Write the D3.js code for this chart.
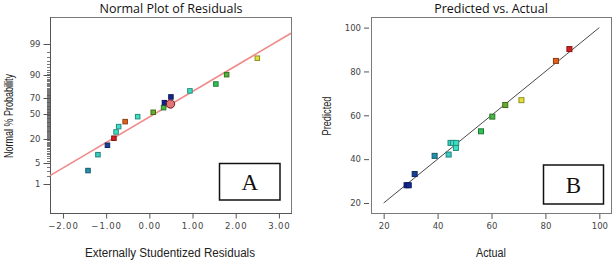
<!DOCTYPE html>
<html lang="en">
<head>
  <meta charset="UTF-8">
  <title>residuals-and-predicted</title>
  <script src="https://cdn.jsdelivr.net/npm/d3@7"></script>
  <style>
    body { margin: 0; background: #fff; }
    svg { display: block; }
    .tick text { font-family: "DejaVu Sans", sans-serif; font-size: 8.5px; fill: #444; }
    .tick line { stroke: #555; }
  </style>
</head>
<body>
<script>
// normal plot of residuals
let residuals = [-1.42, -1.19, -0.97, -0.82, -0.77, -0.71, -0.56, -0.27, 0.09, 0.33, 0.35, 0.49, 0.50, 0.94, 1.54, 1.79, 2.50];
let probabilities = [3.0, 8.8, 14.9, 21.0, 27.5, 33.7, 39.9, 46.4, 52.2, 58.3, 64.6, 63.0, 71.4, 77.8, 84.0, 90.4, 96.8];
let residualRunValues = [38.9, 44.1, 31.5, 88.9, 46.8, 45.7, 83.9, 46.9, 65.1, 60.3, 28.5, 44.8, 29.3, 47.0, 56.1, 62.0, 71.1];
let highlighted = 11;
let fitResiduals = [-2.30, 3.28];
let fitProbabilities = [2.02, 99.63];
let residualTicks = [-2, -1, 0, 1, 2, 3];
let probabilityTicks = [1, 5, 20, 50, 70, 90, 99];

// predicted vs actual
let actual = [28.5, 29.3, 31.5, 38.9, 44.1, 44.8, 45.7, 46.9, 46.8, 56.1, 60.3, 65.1, 71.1, 83.9, 88.9];
let predicted = [28.1, 28.1, 33.2, 41.5, 42.1, 47.4, 47.4, 47.4, 45.1, 52.7, 59.4, 64.7, 66.9, 84.8, 90.2];
let parityLine = [20, 100];
let responseTicks = [20, 40, 60, 80, 100];

let color = d3.scaleLinear()
  .domain([28, 36, 46, 57, 65, 71, 84, 90])
  .range(['#121c8e', '#1a70a0', '#3ee2cc', '#2fc04e', '#64ad2a', '#e2e23a', '#e2601c', '#d2101e']);

// inverse normal cdf (Acklam)
function probit(p) {
  let a = [-39.69683028665376, 220.9460984245205, -275.9285104469687, 138.3577518672690, -30.66479806614716, 2.506628277459239];
  let b = [-54.47609879822406, 161.5858368580409, -155.6989798598866, 66.80131188771972, -13.28068155288572];
  let c = [-0.007784894002430293, -0.3223964580411365, -2.400758277161838, -2.549732539343734, 4.374664141464968, 2.938163982698783];
  let d = [0.007784695709041462, 0.3224671290700398, 2.445134137142996, 3.754408661907416];
  let q, r;
  if (p < 0.02425) {
    q = Math.sqrt(-2 * Math.log(p));
    return (((((c[0] * q + c[1]) * q + c[2]) * q + c[3]) * q + c[4]) * q + c[5]) / ((((d[0] * q + d[1]) * q + d[2]) * q + d[3]) * q + 1);
  }
  if (p > 1 - 0.02425) {
    q = Math.sqrt(-2 * Math.log(1 - p));
    return -(((((c[0] * q + c[1]) * q + c[2]) * q + c[3]) * q + c[4]) * q + c[5]) / ((((d[0] * q + d[1]) * q + d[2]) * q + d[3]) * q + 1);
  }
  q = p - 0.5;
  r = q * q;
  return (((((a[0] * r + a[1]) * r + a[2]) * r + a[3]) * r + a[4]) * r + a[5]) * q / (((((b[0] * r + b[1]) * r + b[2]) * r + b[3]) * r + b[4]) * r + 1);
}

let svg = d3.select('body').append('svg')
  .attr('width', 615)
  .attr('height', 261);

function frame(x0, y0, x1, y1) {
  svg.append('rect')
    .attr('x', x0 + 0.5).attr('y', y0 + 0.5)
    .attr('width', x1 - x0).attr('height', y1 - y0)
    .attr('fill', 'none')
    .attr('stroke', '#7a7a7a');
}

function title(text, x, y) {
  svg.append('text')
    .attr('x', x).attr('y', y)
    .attr('text-anchor', 'middle')
    .style('font-family', '"Open Sans", sans-serif')
    .style('font-size', '12.5px')
    .attr('fill', '#111')
    .text(text);
}

function axisLabel(text, x, y, length, rotate) {
  svg.append('text')
    .attr('transform', 'translate(' + x + ',' + y + ')' + (rotate ? ' rotate(-90)' : ''))
    .attr('text-anchor', 'middle')
    .attr('textLength', length)
    .attr('lengthAdjust', 'spacingAndGlyphs')
    .style('font-family', '"Liberation Sans", Arial, sans-serif')
    .style('font-size', '12px')
    .attr('fill', '#222')
    .text(text);
}

function letterBox(letter, x0, y0, x1, y1) {
  svg.append('rect')
    .attr('x', x0).attr('y', y0)
    .attr('width', x1 - x0).attr('height', y1 - y0)
    .attr('fill', '#fff')
    .attr('stroke', '#111')
    .attr('stroke-width', 1.5);
  svg.append('text')
    .attr('x', (x0 + x1) / 2).attr('y', (y0 + y1) / 2 + 8)
    .attr('text-anchor', 'middle')
    .style('font-family', '"Liberation Serif", "Times New Roman", serif')
    .style('font-size', '23px')
    .attr('fill', '#111')
    .text(letter);
}

function square(g, cx, cy, size, value) {
  let fill = d3.color(color(value));
  g.append('rect')
    .attr('x', cx - size / 2).attr('y', cy - size / 2)
    .attr('width', size).attr('height', size)
    .attr('fill', fill.formatHex())
    .attr('stroke', fill.darker(1.3).formatHex())
    .attr('stroke-width', 1);
}

function renderResidualPlot() {
  let x = d3.scaleLinear().domain([-2.30, 3.28]).range([50, 291]);
  let y = d3.scaleLinear().domain([-3.29, 3.22]).range([213, 17]);
  let py = function (p) { return y(probit(p / 100)); };

  frame(50, 17, 291, 213);

  let xAxis = d3.axisBottom(x)
    .tickValues(residualTicks)
    .tickSize(5)
    .tickPadding(4)
    .tickFormat(d3.format('.2f'));
  svg.append('g')
    .attr('transform', 'translate(0,213.5)')
    .call(xAxis)
    .call(function (g) { g.select('.domain').remove(); })
    .selectAll('text')
    .style('letter-spacing', '0.9px');

  let minor = d3.range(1, 100);
  svg.append('g').selectAll('line')
    .data(minor)
    .join('line')
    .attr('x1', 47).attr('x2', 50)
    .attr('y1', function (d) { return Math.round(py(d)) + 0.5; })
    .attr('y2', function (d) { return Math.round(py(d)) + 0.5; })
    .attr('stroke', '#555')
    .attr('stroke-width', 0.8);

  let yAxis = d3.axisLeft(d3.scaleLinear().domain([0, 1]).range([0, 1]))
    .tickValues(probabilityTicks)
    .tickSize(7)
    .tickPadding(3)
    .tickFormat(d3.format('d'));
  let yg = svg.append('g')
    .attr('transform', 'translate(50.5,0)')
    .call(yAxis);
  yg.select('.domain').remove();
  yg.selectAll('.tick')
    .attr('transform', function (d) { return 'translate(0,' + (Math.round(py(d)) + 0.5) + ')'; });

  svg.append('line')
    .attr('x1', 50.5).attr('x2', 50.5).attr('y1', 17).attr('y2', 214)
    .attr('stroke', '#555');
  svg.append('line')
    .attr('x1', 50).attr('x2', 292).attr('y1', 213.5).attr('y2', 213.5)
    .attr('stroke', '#555');

  svg.append('line')
    .attr('x1', x(fitResiduals[0])).attr('y1', py(fitProbabilities[0]))
    .attr('x2', x(fitResiduals[1])).attr('y2', py(fitProbabilities[1]))
    .attr('stroke', '#f08a8a')
    .attr('stroke-width', 1.6);

  let pts = svg.append('g');
  residuals.forEach(function (r, i) {
    if (i === highlighted) return;
    square(pts, x(r), py(probabilities[i]), 4.5, residualRunValues[i]);
  });
  pts.append('circle')
    .attr('cx', x(residuals[highlighted]))
    .attr('cy', py(probabilities[highlighted]))
    .attr('r', 4.2)
    .attr('fill', '#e07476')
    .attr('stroke', '#6a1a22')
    .attr('stroke-width', 1);

  title('Normal Plot of Residuals', 171, 13);
  axisLabel('Normal % Probability', 13, 116, 84, true);
  axisLabel('Externally Studentized Residuals', 170, 257, 170, false);
  letterBox('A', 219.5, 163.5, 280, 200);
}

function renderParityPlot() {
  let x = d3.scaleLinear().domain([15.3, 104.7]).range([371, 612]);
  let y = d3.scaleLinear().domain([15.3, 104.7]).range([213.3, 17.3]);

  frame(371, 17, 611, 213);

  svg.append('g')
    .attr('transform', 'translate(0,214)')
    .call(d3.axisBottom(x).tickValues(responseTicks).tickSize(5).tickPadding(4))
    .call(function (g) { g.select('.domain').remove(); });

  svg.append('g')
    .attr('transform', 'translate(369,0)')
    .call(d3.axisLeft(y).tickValues(responseTicks).tickSize(5).tickPadding(3))
    .call(function (g) { g.select('.domain').remove(); });

  svg.append('line')
    .attr('x1', x(parityLine[0])).attr('y1', y(parityLine[0]))
    .attr('x2', x(parityLine[1])).attr('y2', y(parityLine[1]))
    .attr('stroke', '#333')
    .attr('stroke-width', 0.9);

  let pts = svg.append('g');
  actual.forEach(function (a, i) {
    square(pts, x(a), y(predicted[i]), 5, a);
  });

  title('Predicted vs. Actual', 491, 13);
  axisLabel('Predicted', 331, 116, 39, true);
  axisLabel('Actual', 491, 257, 30, false);
  letterBox('B', 543.5, 165, 603.5, 204);
}

renderResidualPlot();
renderParityPlot();
</script>
</body>
</html>
